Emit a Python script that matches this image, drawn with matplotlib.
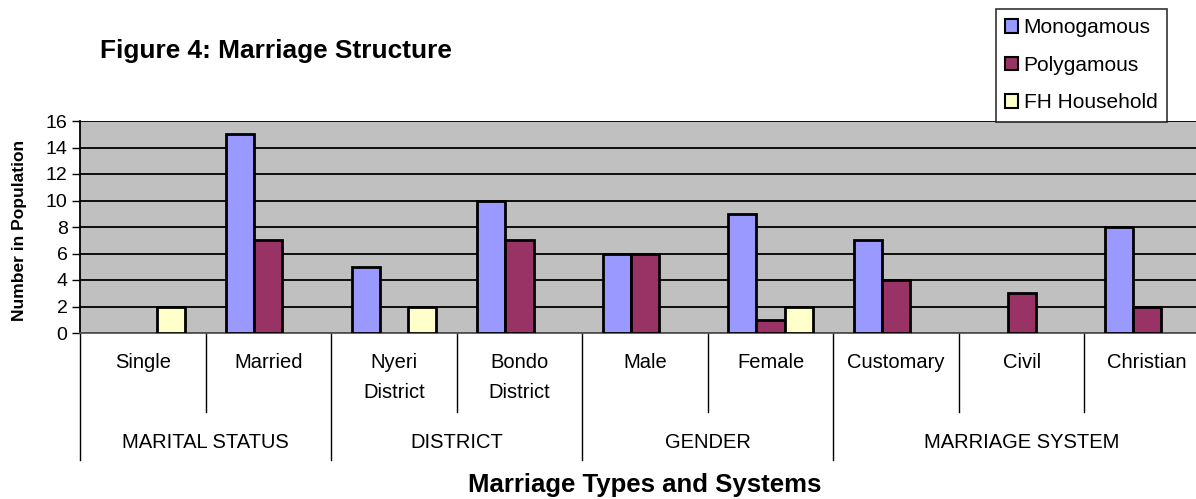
import matplotlib
matplotlib.use("Agg")
import matplotlib.pyplot as plt
from matplotlib.patches import Patch
import numpy as np

plt.rcParams['font.family'] = ['Liberation Sans', 'DejaVu Sans']

categories = ["Single", "Married", "Nyeri\nDistrict", "Bondo\nDistrict", "Male",
              "Female", "Customary", "Civil", "Christian"]
groups = ["MARITAL STATUS", "DISTRICT", "GENDER", "MARRIAGE SYSTEM"]
group_sizes = [2, 2, 2, 3]

monogamous = [0, 15, 5, 10, 6, 9, 7, 0, 8]
polygamous = [0, 7, 0, 7, 6, 1, 4, 3, 2]
fh_household = [2, 0, 2, 0, 0, 2, 0, 0, 0]

series = [("Monogamous", monogamous, "#9999FF"),
          ("Polygamous", polygamous, "#993366"),
          ("FH Household", fh_household, "#FFFFCC")]

W, H = 1196, 499
fig = plt.figure(figsize=(W / 100, H / 100), dpi=100)
# plot area runs past the right edge of the canvas
left, right, top, bottom = 80, 1210, 121, 333
ax = fig.add_axes([left / W, 1 - bottom / H, (right - left) / W, (bottom - top) / H])
ax.set_facecolor("#C0C0C0")

x = np.arange(len(categories))
bw = 0.224
for i, (name, vals, col) in enumerate(series):
    vals = np.array(vals, dtype=float)
    mask = vals > 0
    ax.bar(x[mask] + (i - 1) * bw, vals[mask], width=bw, color=col,
           edgecolor="black", linewidth=2, zorder=3)

ax.set_xlim(-0.5, len(categories) - 0.5)
ax.set_ylim(0, 16)
ax.set_yticks(range(0, 17, 2))
ax.yaxis.grid(True, color="black", linewidth=1.3, zorder=1)
ax.set_axisbelow(True)
ax.tick_params(axis="y", labelsize=14, length=6, width=1, direction="out", pad=3)
ax.set_xticks([])
for s in ["top", "right"]:
    ax.spines[s].set_visible(False)
ax.spines["left"].set_linewidth(1.3)
ax.spines["bottom"].set_linewidth(1.3)
ax.spines["bottom"].set_color("#555555")

fig.text(20 / W, 1 - 230 / H, "Number in Population", rotation=90,
         ha="center", va="center", fontsize=12.5, fontweight="bold")

# Multi-level category axis drawn below the plot area
tr = ax.get_xaxis_transform()
ph = bottom - top


def fy(py):
    return -(py - bottom) / ph


for i, c in enumerate(categories):
    for k, line in enumerate(c.split("\n")):
        ax.text(i, fy(363 + 30 * k), line, transform=tr, ha="center",
                va="center", fontsize=14.5)

bounds = np.concatenate([[0], np.cumsum(group_sizes)])
group_edges = set(bounds.tolist())
for b in range(len(categories)):
    yb = fy(460) if b in group_edges else fy(412)
    ax.plot([b - 0.5, b - 0.5], [0, yb], transform=tr, color="black",
            linewidth=1, clip_on=False)
for g, name in enumerate(groups):
    cx = (bounds[g] + bounds[g + 1]) / 2 - 0.5
    ax.text(cx, fy(443), name, transform=tr, ha="center", va="center",
            fontsize=14.5)

fig.text((left + right) / 2 / W, 1 - 492 / H, "Marriage Types and Systems",
         ha="center", va="baseline", fontsize=18.5, fontweight="bold")
fig.text(100 / W, 1 - 58 / H, "Figure 4: Marriage Structure", ha="left",
         va="baseline", fontsize=18.9, fontweight="bold")

handles = [Patch(facecolor=c, edgecolor="black", linewidth=1.5, label=n)
           for n, _, c in series]
leg = fig.legend(handles=handles, loc="upper left",
                 bbox_to_anchor=(996 / W, 1 - 9 / H), fontsize=15,
                 frameon=True, fancybox=False, handlelength=0.6, handleheight=0.6,
                 handletextpad=0.28, labelspacing=0.89, borderpad=0.45,
                 borderaxespad=0)
leg.get_frame().set_edgecolor("black")
leg.get_frame().set_linewidth(1.2)
leg.set_zorder(10)

fig.savefig("out.png", dpi=100)
